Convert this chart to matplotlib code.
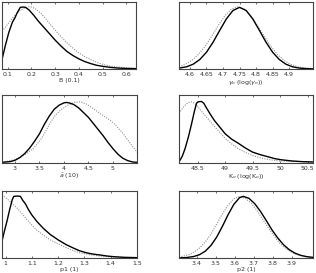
import matplotlib
matplotlib.use("Agg")
import matplotlib.pyplot as plt

# Panel 1: B (0.1)
b_x_solid = [0.076, 0.09, 0.105, 0.12, 0.13, 0.14, 0.153, 0.165, 0.175, 0.19, 0.21, 0.23, 0.25, 0.275,
             0.30, 0.325, 0.35, 0.375, 0.40, 0.425, 0.45, 0.475, 0.50, 0.53, 0.56, 0.60, 0.64]
b_y_solid = [0.14, 0.35, 0.55, 0.70, 0.76, 0.84, 0.92, 0.925, 0.92, 0.88, 0.80, 0.71, 0.63, 0.53,
             0.43, 0.34, 0.26, 0.20, 0.15, 0.11, 0.08, 0.055, 0.04, 0.025, 0.015, 0.008, 0.005]
b_x_dot = [0.083, 0.10, 0.125, 0.15, 0.17, 0.19, 0.205, 0.22, 0.24, 0.265, 0.28, 0.30, 0.325, 0.35,
           0.375, 0.40, 0.425, 0.45, 0.475, 0.50, 0.53, 0.56, 0.60, 0.64]
b_y_dot = [0.59, 0.67, 0.78, 0.87, 0.91, 0.93, 0.92, 0.89, 0.83, 0.73, 0.66, 0.58, 0.48, 0.39,
           0.31, 0.24, 0.185, 0.14, 0.10, 0.07, 0.045, 0.03, 0.017, 0.01]

# Panel 2: gamma_o
g_x_solid = [4.567, 4.59, 4.61, 4.63, 4.65, 4.67, 4.69, 4.71, 4.73, 4.75, 4.77, 4.79, 4.81, 4.83,
             4.85, 4.87, 4.89, 4.91, 4.93, 4.95, 4.972]
g_y_solid = [0.013, 0.033, 0.072, 0.142, 0.25, 0.40, 0.576, 0.747, 0.873, 0.92, 0.873, 0.747, 0.576,
             0.40, 0.25, 0.142, 0.072, 0.033, 0.014, 0.006, 0.002]
g_x_dot = [4.567, 4.585, 4.605, 4.625, 4.645, 4.665, 4.685, 4.705, 4.725, 4.745, 4.765, 4.785, 4.805,
           4.825, 4.845, 4.865, 4.885, 4.905, 4.925, 4.945, 4.972]
g_y_dot = [0.035, 0.068, 0.126, 0.214, 0.335, 0.484, 0.644, 0.79, 0.893, 0.93, 0.893, 0.79, 0.644,
           0.484, 0.335, 0.214, 0.126, 0.068, 0.034, 0.016, 0.006]

# Panel 3: a (10)
a_x_solid = [2.735, 2.9, 3.0, 3.1, 3.2, 3.3, 3.4, 3.5, 3.6, 3.7, 3.8, 3.9, 4.0, 4.05, 4.1, 4.2, 4.3,
             4.4, 4.5, 4.6, 4.7, 4.8, 4.9, 5.0, 5.1, 5.2, 5.3, 5.4, 5.49]
a_y_solid = [0.01, 0.02, 0.04, 0.08, 0.14, 0.22, 0.32, 0.43, 0.57, 0.69, 0.79, 0.85, 0.885, 0.89,
             0.885, 0.86, 0.81, 0.74, 0.67, 0.58, 0.49, 0.40, 0.30, 0.21, 0.13, 0.07, 0.035, 0.015, 0.01]
a_x_dot = [2.735, 3.0, 3.2, 3.37, 3.5, 3.6, 3.71, 3.8, 3.9, 4.05, 4.2, 4.33, 4.45, 4.6, 4.75, 4.94,
           5.05, 5.21, 5.35, 5.49]
a_y_dot = [0.01, 0.05, 0.12, 0.21, 0.32, 0.43, 0.58, 0.68, 0.76, 0.84, 0.89, 0.90, 0.87, 0.80, 0.72,
           0.63, 0.56, 0.43, 0.29, 0.16]

# Panel 4: K_o
k_x_solid = [48.16, 48.22, 48.27, 48.33, 48.39, 48.44, 48.48, 48.51, 48.57, 48.61, 48.66, 48.72, 48.8,
             48.9, 49.0, 49.12, 49.24, 49.37, 49.5, 49.65, 49.79, 49.9, 50.0, 50.21, 50.4, 50.6]
k_y_solid = [0.015, 0.10, 0.21, 0.38, 0.58, 0.76, 0.88, 0.90, 0.905, 0.88, 0.81, 0.73, 0.63, 0.53,
             0.43, 0.35, 0.29, 0.22, 0.16, 0.12, 0.09, 0.065, 0.05, 0.03, 0.02, 0.015]
k_x_dot = [48.16, 48.22, 48.27, 48.33, 48.39, 48.44, 48.5, 48.57, 48.63, 48.7, 48.76, 48.88, 49.0,
           49.12, 49.24, 49.37, 49.5, 49.65, 49.79, 50.0, 50.21, 50.6]
k_y_dot = [0.73, 0.80, 0.85, 0.89, 0.90, 0.88, 0.83, 0.76, 0.70, 0.64, 0.58, 0.47, 0.36, 0.28, 0.21,
           0.155, 0.11, 0.075, 0.05, 0.03, 0.025, 0.015]

# Panel 5: p1 (1)
p1_x_solid = [0.986, 0.995, 1.005, 1.015, 1.025, 1.031, 1.045, 1.056, 1.065, 1.075, 1.087, 1.10,
              1.12, 1.144, 1.17, 1.20, 1.23, 1.257, 1.28, 1.305, 1.33, 1.359, 1.385, 1.41, 1.45, 1.50]
p1_y_solid = [0.25, 0.40, 0.55, 0.72, 0.87, 0.92, 0.925, 0.92, 0.86, 0.81, 0.72, 0.64, 0.54, 0.44,
              0.35, 0.27, 0.20, 0.15, 0.11, 0.08, 0.06, 0.045, 0.03, 0.02, 0.01, 0.005]
p1_x_dot = [0.986, 1.0, 1.015, 1.031, 1.045, 1.056, 1.075, 1.10, 1.12, 1.144, 1.17, 1.20, 1.23,
            1.257, 1.28, 1.305, 1.33, 1.359, 1.41, 1.45, 1.50]
p1_y_dot = [0.94, 0.90, 0.85, 0.79, 0.74, 0.69, 0.60, 0.49, 0.41, 0.34, 0.27, 0.21, 0.155, 0.11,
            0.08, 0.06, 0.045, 0.03, 0.015, 0.008, 0.005]

# Panel 6: p2 (1)
p2_x_solid = [3.308, 3.345, 3.385, 3.415, 3.445, 3.475, 3.505, 3.535, 3.565, 3.595, 3.625, 3.645,
              3.675, 3.705, 3.735, 3.765, 3.795, 3.825, 3.855, 3.885, 3.915, 3.945, 3.975, 4.01]
p2_y_solid = [0.002, 0.006, 0.022, 0.049, 0.10, 0.186, 0.31, 0.47, 0.645, 0.80, 0.90, 0.92, 0.89,
              0.81, 0.695, 0.56, 0.42, 0.30, 0.20, 0.125, 0.073, 0.04, 0.021, 0.009]
p2_x_dot = [3.308, 3.356, 3.386, 3.416, 3.446, 3.476, 3.506, 3.536, 3.566, 3.596, 3.626, 3.656,
            3.686, 3.716, 3.746, 3.776, 3.806, 3.836, 3.866, 3.896, 3.926, 3.956, 4.01]
p2_y_dot = [0.014, 0.045, 0.085, 0.15, 0.24, 0.36, 0.51, 0.66, 0.79, 0.886, 0.92, 0.89, 0.82, 0.71,
            0.58, 0.45, 0.33, 0.22, 0.145, 0.09, 0.05, 0.028, 0.008]

panels = [
    (b_x_solid, b_y_solid, b_x_dot, b_y_dot, (0.076, 0.64), [0.1, 0.2, 0.3, 0.4, 0.5, 0.6],
     ["0.1", "0.2", "0.3", "0.4", "0.5", "0.6"], "B (0.1)"),
    (g_x_solid, g_y_solid, g_x_dot, g_y_dot, (4.567, 4.972), [4.6, 4.65, 4.7, 4.75, 4.8, 4.85, 4.9],
     ["4.6", "4.65", "4.7", "4.75", "4.8", "4.85", "4.9"], r"$\gamma_o$ (log($\gamma_o$))"),
    (a_x_solid, a_y_solid, a_x_dot, a_y_dot, (2.735, 5.49), [3, 3.5, 4, 4.5, 5],
     ["3", "3.5", "4", "4.5", "5"], r"$\bar{a}$ (10)"),
    (k_x_solid, k_y_solid, k_x_dot, k_y_dot, (48.16, 50.6), [48.5, 49, 49.5, 50, 50.5],
     ["48.5", "49", "49.5", "50", "50.5"], r"K$_o$ (log(K$_o$))"),
    (p1_x_solid, p1_y_solid, p1_x_dot, p1_y_dot, (0.986, 1.5), [1.0, 1.1, 1.2, 1.3, 1.4, 1.5],
     ["1", "1.1", "1.2", "1.3", "1.4", "1.5"], "p1 (1)"),
    (p2_x_solid, p2_y_solid, p2_x_dot, p2_y_dot, (3.308, 4.01), [3.4, 3.5, 3.6, 3.7, 3.8, 3.9],
     ["3.4", "3.5", "3.6", "3.7", "3.8", "3.9"], "p2 (1)"),
]

W, H = 316, 273
fig = plt.figure(figsize=(W / 100, H / 100), dpi=100)
fig.patch.set_facecolor("white")

# pixel boxes: left, top, right, bottom
boxes = [
    (2, 2, 136, 69), (179, 2, 313, 69),
    (2, 95, 137, 163), (179, 95, 313, 163),
    (2, 191, 137, 258), (179, 191, 313, 258),
]

for (xs, ys, xd, yd, xlim, ticks, tlabels, label), (l, t, r, b) in zip(panels, boxes):
    ax = fig.add_axes([l / W, 1 - b / H, (r - l) / W, (b - t) / H])
    ax.plot(xd, yd, color="#909090", lw=0.8, ls=(0, (1, 1.2)))
    ax.plot(xs, ys, color="black", lw=1.0)
    ax.set_xlim(*xlim)
    ax.set_ylim(0, 1)
    ax.set_yticks([])
    ax.set_xticks(ticks)
    ax.set_xticklabels(tlabels)
    ax.tick_params(axis="x", direction="in", top=True, bottom=True, length=1.5,
                   width=0.5, labelsize=4.5, pad=2, colors="#333333", labelcolor="#333333")
    for s in ax.spines.values():
        s.set_linewidth(0.8)
        s.set_color("#444444")
    ax.set_xlabel(label, fontsize=4.5, labelpad=1, color="#333333")

fig.savefig("out.png", dpi=100)
